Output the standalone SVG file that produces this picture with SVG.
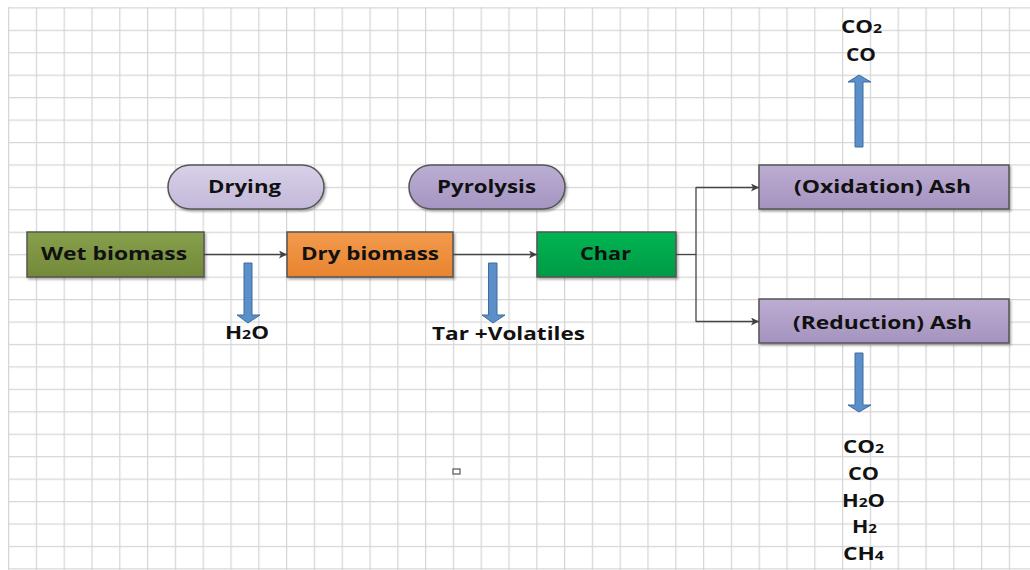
<svg xmlns="http://www.w3.org/2000/svg" width="1030" height="570" viewBox="0 0 1030 570">
  <defs>
    <pattern id="grid" x="8" y="7.3" width="27.8" height="22.44" patternUnits="userSpaceOnUse">
      <path d="M0.6 0V22.44M0 0.6H27.8" fill="none" stroke="#d6d6d6" stroke-width="1.3"/>
    </pattern>
    <linearGradient id="gOlive" x1="0" y1="0" x2="0" y2="1">
      <stop offset="0" stop-color="#87a04b"/>
      <stop offset="1" stop-color="#72893a"/>
    </linearGradient>
    <linearGradient id="gOrange" x1="0" y1="0" x2="0" y2="1">
      <stop offset="0" stop-color="#f29b4e"/>
      <stop offset="1" stop-color="#e8842f"/>
    </linearGradient>
    <linearGradient id="gGreen" x1="0" y1="0" x2="0" y2="1">
      <stop offset="0" stop-color="#00b552"/>
      <stop offset="1" stop-color="#009a45"/>
    </linearGradient>
    <linearGradient id="gPurple" x1="0" y1="0" x2="0" y2="1">
      <stop offset="0" stop-color="#bcadd2"/>
      <stop offset="1" stop-color="#a593bf"/>
    </linearGradient>
    <linearGradient id="gLilac" x1="0" y1="0" x2="0" y2="1">
      <stop offset="0" stop-color="#d8d1e8"/>
      <stop offset="1" stop-color="#c3b8d9"/>
    </linearGradient>
    <linearGradient id="gPyro" x1="0" y1="0" x2="0" y2="1">
      <stop offset="0" stop-color="#bbaed3"/>
      <stop offset="1" stop-color="#a595c2"/>
    </linearGradient>
    <filter id="shadow" x="-10%" y="-20%" width="120%" height="150%">
      <feDropShadow dx="1.5" dy="2" stdDeviation="1.2" flood-color="#000" flood-opacity="0.3"/>
    </filter>
    <marker id="arrow" viewBox="0 0 10 10" refX="10" refY="5" markerWidth="8" markerHeight="8" markerUnits="userSpaceOnUse" orient="auto">
      <path d="M0 0L10 5L0 10L2.5 5Z" fill="#404040"/>
    </marker>
  </defs>
  <style>
    .box { stroke: #555; stroke-width: 1.5; filter: url(#shadow); }
    .lbl { font-family: "Open Sans", "Liberation Sans", sans-serif; font-weight: bold; font-size: 18px; fill: #111; }
    .gas { font-family: "Open Sans", "Liberation Sans", sans-serif; font-weight: bold; font-size: 17px; fill: #111; text-anchor: middle; }
    .sub { font-size: 12px; }
    .conn { fill: none; stroke: #454545; stroke-width: 1.3; marker-end: url(#arrow); }
    .flow { fill: #5b8fca; stroke: #3f6c9f; stroke-width: 1; }
  </style>

  <!-- background grid -->
  <rect width="1030" height="570" fill="#fff"/>
  <rect x="8" y="7" width="1022" height="563" fill="url(#grid)"/>

  <!-- process stage labels -->
  <g id="drying">
    <rect class="box" x="168" y="165" width="156" height="44" rx="22" fill="url(#gLilac)"/>
    <text class="lbl" x="244.5" y="193" text-anchor="middle" textLength="73" lengthAdjust="spacingAndGlyphs">Drying</text>
  </g>
  <g id="pyrolysis">
    <rect class="box" x="409" y="165" width="156" height="44" rx="22" fill="url(#gPyro)"/>
    <text class="lbl" x="486.5" y="193" text-anchor="middle" textLength="99" lengthAdjust="spacingAndGlyphs">Pyrolysis</text>
  </g>

  <!-- material nodes -->
  <g id="wet-biomass">
    <rect class="box" x="27" y="232" width="177" height="45" fill="url(#gOlive)"/>
    <text class="lbl" x="114" y="260" text-anchor="middle" textLength="146" lengthAdjust="spacingAndGlyphs">Wet biomass</text>
  </g>
  <g id="dry-biomass">
    <rect class="box" x="287" y="232" width="166" height="45" fill="url(#gOrange)"/>
    <text class="lbl" x="370" y="260" text-anchor="middle" textLength="138" lengthAdjust="spacingAndGlyphs">Dry biomass</text>
  </g>
  <g id="char">
    <rect class="box" x="537" y="232" width="139" height="45" fill="url(#gGreen)"/>
    <text class="lbl" x="605.5" y="260" text-anchor="middle" textLength="51" lengthAdjust="spacingAndGlyphs">Char</text>
  </g>
  <g id="oxidation">
    <rect class="box" x="759" y="165" width="250" height="44" fill="url(#gPurple)"/>
    <text class="lbl" x="882.5" y="193" text-anchor="middle" textLength="177" lengthAdjust="spacingAndGlyphs">(Oxidation) Ash</text>
  </g>
  <g id="reduction">
    <rect class="box" x="759" y="299" width="250" height="44" fill="url(#gPurple)"/>
    <text class="lbl" x="882.5" y="329" text-anchor="middle" textLength="179" lengthAdjust="spacingAndGlyphs">(Reduction) Ash</text>
  </g>

  <!-- products -->
  <g id="water">
    <text class="gas" x="247" y="339" textLength="44" lengthAdjust="spacingAndGlyphs">H<tspan class="sub">2</tspan>O</text>
  </g>
  <g id="tar-volatiles">
    <text class="gas" x="508.5" y="340" textLength="153" lengthAdjust="spacingAndGlyphs">Tar +Volatiles</text>
  </g>
  <g id="oxidation-gases">
    <text class="gas" x="861.5" y="33" textLength="41" lengthAdjust="spacingAndGlyphs">CO<tspan class="sub">2</tspan></text>
    <text class="gas" x="861" y="61" textLength="30" lengthAdjust="spacingAndGlyphs">CO</text>
  </g>
  <g id="reduction-gases">
    <text class="gas" x="863.5" y="453" textLength="41" lengthAdjust="spacingAndGlyphs">CO<tspan class="sub">2</tspan></text>
    <text class="gas" x="863.5" y="480" textLength="31" lengthAdjust="spacingAndGlyphs">CO</text>
    <text class="gas" x="863.5" y="507" textLength="43" lengthAdjust="spacingAndGlyphs">H<tspan class="sub">2</tspan>O</text>
    <text class="gas" x="864.5" y="533" textLength="25" lengthAdjust="spacingAndGlyphs">H<tspan class="sub">2</tspan></text>
    <text class="gas" x="863.5" y="560" textLength="41" lengthAdjust="spacingAndGlyphs">CH<tspan class="sub">4</tspan></text>
  </g>

  <!-- connectors -->
  <g id="connectors">
    <path class="conn" d="M204 254.5H287"/>
    <path class="conn" d="M453 254.5H537"/>
    <path d="M676 254.5H696" fill="none" stroke="#454545" stroke-width="1.3"/>
    <path d="M696 187V322" fill="none" stroke="#454545" stroke-width="1.3"/>
    <path class="conn" d="M696 187.5H759"/>
    <path class="conn" d="M696 321.5H759"/>
    <!-- block arrows for released products -->
    <path class="flow" d="M244 263H252V315H260L248 323L237 315H244Z"/>
    <path class="flow" d="M488.5 263H497V315H505L493 323L482 315H488.5Z"/>
    <path class="flow" d="M855 147H863V82H871L859 75L848 82H855Z"/>
    <path class="flow" d="M855 353H863V405H871L859 412L848 405H855Z"/>
  </g>

  <!-- stray handle -->
  <rect x="453" y="469" width="7" height="5" fill="#fff" stroke="#555" stroke-width="1.2"/>
</svg>
